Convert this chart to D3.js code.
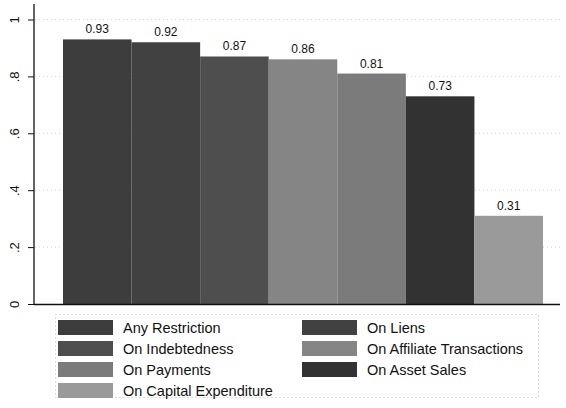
<!DOCTYPE html>
<html><head><meta charset="utf-8">
<script src="https://cdn.jsdelivr.net/npm/d3@7"></script>
<style>body{margin:0;background:#fff}svg{display:block}</style>
</head><body>
<svg id="c" width="566" height="408"></svg>
<script>
const series = ["Any Restriction","On Liens","On Indebtedness","On Affiliate Transactions","On Payments","On Asset Sales","On Capital Expenditure"];
const values = [0.93,0.92,0.87,0.86,0.81,0.73,0.31];
const colors = ["#3d3d3d","#414141","#4e4e4e","#858585","#7b7b7b","#323232","#9a9a9a"];
const yTicks = [0,0.2,0.4,0.6,0.8,1];
const yTickLabels = ["0",".2",".4",".6",".8","1"];

const svg = d3.select("#c");
const font = "Liberation Sans, Arial, sans-serif";
const x = d3.scaleBand().domain(series).range([63,543]).padding(0);
const y = d3.scaleLinear().domain([0,1]).range([304,19.5]);

// gridlines
svg.append("g").selectAll("line").data(yTicks.filter(d=>d>0)).join("line")
  .attr("x1",35).attr("x2",560).attr("y1",d=>y(d)).attr("y2",d=>y(d))
  .attr("stroke","#c8c8c8").attr("stroke-width",0.8).attr("stroke-dasharray","1,3");

// bars
svg.append("g").selectAll("rect").data(values).join("rect")
  .attr("x",(d,i)=>x(series[i])).attr("width",x.bandwidth())
  .attr("y",d=>y(d)).attr("height",d=>y(0)-y(d))
  .attr("fill",(d,i)=>colors[i]);

// value labels
svg.append("g").selectAll("text").data(values).join("text")
  .attr("x",(d,i)=>x(series[i])+x.bandwidth()/2).attr("y",d=>y(d)-6)
  .attr("text-anchor","middle").attr("font-family",font).attr("font-size",12)
  .attr("fill","#111").text(d=>d.toFixed(2));

// y axis
const yAxis = d3.axisLeft(y).tickValues(yTicks).tickFormat((d,i)=>yTickLabels[i]).tickSize(6).tickPadding(6);
const ga = svg.append("g").attr("transform","translate(34,0)").call(yAxis);
ga.select(".domain").attr("stroke","#111").attr("stroke-width",1.3).attr("d","M0,"+(y(0))+"V4");
ga.selectAll(".tick line").attr("stroke","#111");
ga.selectAll(".tick text").attr("font-family",font).attr("font-size",13).attr("fill","#111")
  .attr("transform","rotate(-90,-20,0)")
  .attr("x",-20).attr("dy","0.35em").attr("text-anchor","middle");

// x baseline
svg.append("line").attr("x1",34).attr("x2",560).attr("y1",y(0)+0.5).attr("y2",y(0)+0.5)
  .attr("stroke","#111").attr("stroke-width",1.4);

// legend
const lg = svg.append("g");
lg.append("rect").attr("x",55.5).attr("y",314.5).attr("width",483).attr("height",83)
  .attr("fill","none").attr("stroke","#bbb").attr("stroke-dasharray","1,3");
series.forEach((s,i)=>{
  const col = i%2, row = Math.floor(i/2);
  const sx = col===0?58:302, sy = 320+row*21;
  lg.append("rect").attr("x",sx).attr("y",sy).attr("width",55).attr("height",15).attr("fill",colors[i]);
  lg.append("text").attr("x",sx+65).attr("y",sy+12.5).attr("font-family",font).attr("font-size",14.5)
    .attr("fill","#111").text(s);
});
</script>
</body></html>
